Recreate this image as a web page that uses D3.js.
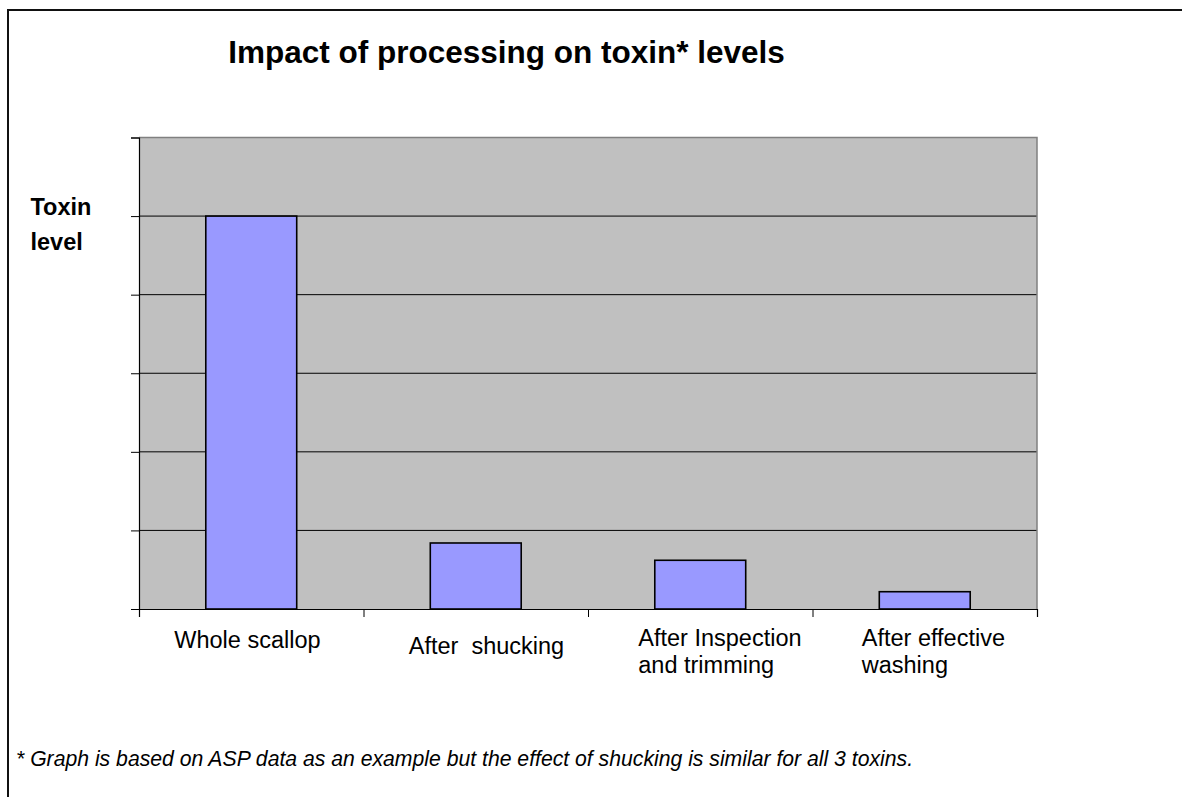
<!DOCTYPE html>
<html>
<head>
<meta charset="utf-8">
<script src="https://cdn.jsdelivr.net/npm/d3@7"></script>
<style>
  html, body { margin: 0; padding: 0; background: #fff; }
  svg { display: block; }
  text { font-family: "Liberation Sans", Arial, sans-serif; fill: #000; white-space: pre; }
</style>
</head>
<body>
<svg id="chart" width="1182" height="797"></svg>
<script>
// ---- data ----
const categories = ["Whole scallop", "After  shucking", "After Inspection and trimming", "After effective washing"];
const categoryLines = [["Whole scallop"], ["After  shucking"], ["After Inspection", "and trimming"], ["After effective", "washing"]];
const toxinLevels = [5.0, 0.84, 0.62, 0.22];
const yTicks = [0, 1, 2, 3, 4, 5, 6];
const titleText = "Impact of processing on toxin* levels";
const yLabelLines = ["Toxin", "level"];
const footnoteText = "* Graph is based on ASP data as an example but the effect of shucking is similar for all 3 toxins.";

// ---- layout ----
const W = 1182, H = 797;
const plot = { left: 139, right: 1037, top: 137.5, bottom: 609 };
const labelDx = [-77, -67, -62, -63];
const labelBaseline = [648, 654, 646, 646];

const svg = d3.select("#chart");

// outer frame (left + top edges visible)
svg.append("line").attr("x1", 8).attr("x2", 8).attr("y1", 9).attr("y2", H)
  .attr("stroke", "#111").attr("stroke-width", 2);
svg.append("line").attr("x1", 7).attr("x2", W).attr("y1", 10).attr("y2", 10)
  .attr("stroke", "#111").attr("stroke-width", 2);

const x = d3.scaleBand().domain(categories).range([plot.left, plot.right])
  .paddingInner(0.595).paddingOuter(0.2975);
const y = d3.scaleLinear().domain([0, 6]).range([plot.bottom, plot.top]);

// plot background
svg.append("rect").attr("x", plot.left).attr("y", plot.top)
  .attr("width", plot.right - plot.left).attr("height", plot.bottom - plot.top)
  .attr("fill", "#C0C0C0");

// gridlines
svg.append("g").selectAll("line").data(yTicks.filter(d => d > 0 && d < 6)).join("line")
  .attr("x1", plot.left).attr("x2", plot.right)
  .attr("y1", d => y(d)).attr("y2", d => y(d))
  .attr("stroke", "#000").attr("stroke-width", 1);

// plot border top/right (gray)
svg.append("path")
  .attr("d", `M${plot.left},${plot.top}H${plot.right}V${plot.bottom}`)
  .attr("fill", "none").attr("stroke", "#808080").attr("stroke-width", 1.5);

// bars
svg.append("g").selectAll("rect").data(toxinLevels).join("rect")
  .attr("x", (d, i) => x(categories[i]))
  .attr("y", d => y(d))
  .attr("width", x.bandwidth())
  .attr("height", d => y(0) - y(d))
  .attr("fill", "#9999FF").attr("stroke", "#000").attr("stroke-width", 1.6);

// y axis (no labels)
const yAxis = d3.axisLeft(y).tickValues(yTicks).tickSize(8).tickFormat("");
const gy = svg.append("g").attr("transform", `translate(${plot.left},0)`).call(yAxis);
gy.select(".domain").attr("stroke", "#000").attr("stroke-width", 1.2);
gy.selectAll(".tick line").attr("stroke", "#000").attr("stroke-width", 1);

// x axis: ticks at category boundaries
const xb = d3.scaleLinear().domain([0, categories.length]).range([plot.left, plot.right]);
const xAxis = d3.axisBottom(xb).tickValues(d3.range(categories.length + 1)).tickSize(8).tickFormat("");
const gx = svg.append("g").attr("transform", `translate(0,${plot.bottom})`).call(xAxis);
gx.select(".domain").attr("stroke", "#000").attr("stroke-width", 1.2);
gx.selectAll(".tick line").attr("stroke", "#000").attr("stroke-width", 1);

// category labels
categoryLines.forEach((lines, i) => {
  const cx = x(categories[i]) + x.bandwidth() / 2 + labelDx[i];
  const t = svg.append("text").attr("x", cx).attr("y", labelBaseline[i])
    .attr("xml:space", "preserve")
    .style("font-size", "23.5px");
  lines.forEach((ln, j) => {
    t.append("tspan").attr("x", cx).attr("dy", j === 0 ? 0 : 27).text(ln);
  });
});

// title
svg.append("text").attr("x", 506.5).attr("y", 63).attr("text-anchor", "middle")
  .style("font-size", "31.5px").style("font-weight", "bold").text(titleText);

// y label
yLabelLines.forEach((ln, j) => {
  svg.append("text").attr("x", 30.5).attr("y", 215 + j * 35)
    .style("font-size", "23.5px").style("font-weight", "bold").text(ln);
});

// footnote
svg.append("text").attr("x", 16).attr("y", 766)
  .style("font-size", "21.2px").style("font-style", "italic").text(footnoteText);
</script>
</body>
</html>
